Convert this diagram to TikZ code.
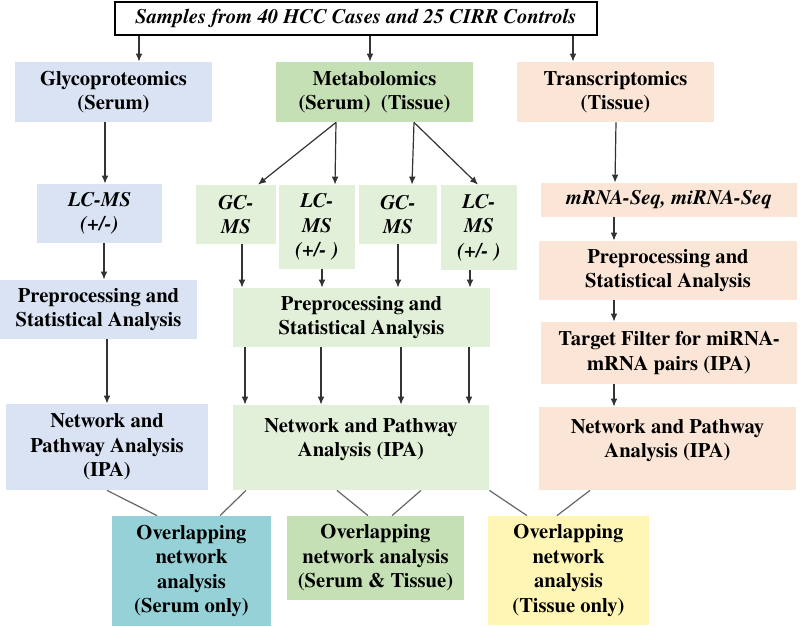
\documentclass[tikz,border=0pt]{standalone}
\usepackage{fontspec}
\setmainfont{texgyretermes}[
  Extension=.otf,
  UprightFont=*-regular,
  BoldFont=*-bold,
  ItalicFont=*-italic,
  BoldItalicFont=*-bolditalic]
\usepackage{tikz}
\usetikzlibrary{arrows.meta}

\definecolor{glyblue}{HTML}{DAE3F3}
\definecolor{metgreen}{HTML}{C5E0B4}
\definecolor{metlight}{HTML}{E2F0D9}
\definecolor{trpeach}{HTML}{FBE5D6}
\definecolor{ovteal}{HTML}{96D1D7}
\definecolor{ovyellow}{HTML}{FFF6B6}

\tikzset{
  box/.style={rectangle, align=center, inner sep=0pt,
    font=\fontsize{10.3}{12.2}\selectfont\bfseries},
  sz/.style 2 args={minimum width=#1*0.5pt, minimum height=#2*0.5pt},
  raised/.style={text depth=10pt},
  arr/.style={draw=black!80, line width=0.6pt, -{Latex[length=4pt,width=3.4pt]}},
  link/.style={draw=black!60, line width=0.6pt}
}

\begin{document}
\begin{tikzpicture}[x=0.5pt, y=-0.5pt]
  \useasboundingbox[fill=white] (0,0) rectangle (800,627);

  \node[box, sz={482}{33}, draw=black, line width=0.8pt, fill=white] (top) at (356,18.5)
    {\itshape Samples from 40 HCC Cases and 25 CIRR Controls};

  \node[box, sz={197}{60}, fill=glyblue] (glyco) at (113.5,92) {Glycoproteomics\\(Serum)};
  \node[box, sz={197}{60}, fill=metgreen] (metab) at (374.5,92) {Metabolomics\\(Serum)\ \ (Tissue)};
  \node[box, sz={197}{60}, fill=trpeach] (transc) at (615.5,92) {Transcriptomics\\(Tissue)};

  \node[box, sz={125}{59}, fill=glyblue] (glcms) at (99.5,213.5) {\itshape LC-MS\\\itshape (+/-)};
  \node[box, sz={197}{59}, fill=glyblue] (glpre) at (98.5,309.5) {Preprocessing and\\Statistical Analysis};
  \node[box, sz={202}{86}, fill=glyblue] (glnet) at (107,447) {Network and\\Pathway Analysis\\(IPA)};

  \node[box, sz={80}{59}, fill=metlight] (gcmsa) at (236,214.5) {\itshape GC-\\\itshape MS};
  \node[box, sz={76}{84}, fill=metlight] (lcmsa) at (317,227) {\itshape LC-\\\itshape MS\\\itshape (+/- )};
  \node[box, sz={78}{59}, fill=metlight] (gcmsb) at (398,214.5) {\itshape GC-\\\itshape MS};
  \node[box, sz={76}{85}, fill=metlight] (lcmsb) at (479,227.5) {\itshape LC-\\\itshape MS\\\itshape (+/- )};
  \node[box, sz={257}{59}, fill=metlight] (mpre) at (361.5,317.5) {Preprocessing and\\Statistical Analysis};
  \node[box, raised, sz={256}{85}, fill=metlight] (mnet) at (361,447.5) {Network and Pathway\\Analysis (IPA)};

  \node[box, sz={256}{34}, fill=trpeach] (trseq) at (669,200) {\itshape mRNA-Seq, miRNA-Seq};
  \node[box, sz={258}{59}, fill=trpeach] (trpre) at (668,270.5) {Preprocessing and\\Statistical Analysis};
  \node[box, sz={256}{62}, fill=trpeach] (trfilt) at (669,353) {Target Filter for miRNA-\\mRNA pairs (IPA)};
  \node[box, raised, sz={257}{83}, fill=trpeach] (trnet) at (667.5,448.5) {Network and Pathway\\Analysis (IPA)};

  \node[box, sz={159}{110}, fill=ovteal] (ovser) at (191.5,571) {Overlapping\\network\\analysis\\(Serum only)};
  \node[box, sz={177}{84}, fill=metgreen] (ovboth) at (375.5,558) {Overlapping\\network analysis\\(Serum \& Tissue)};
  \node[box, sz={161}{109}, fill=ovyellow] (ovtis) at (568.5,570.5) {Overlapping\\network\\analysis\\(Tissue only)};

  \draw[arr] (top.south -| 139,0) -- (glyco.north -| 139,0);
  \draw[arr] (top.south -| 370,0) -- (metab.north -| 370,0);
  \draw[arr] (top.south -| 573,0) -- (transc.north -| 573,0);

  \draw[arr] (glyco.south -| 105,0) -- (glcms.north -| 105,0);
  \draw[arr] (glcms.south -| 104,0) -- (glpre.north -| 104,0);
  \draw[arr] (glpre.south -| glnet.north) -- (glnet.north);

  \draw[arr] (metab.south -| 336,0) -- (gcmsa.north -| 258,0);
  \draw[arr] (metab.south -| 336,0) -- (lcmsa.north -| 335,0);
  \draw[arr] (metab.south -| 414,0) -- (gcmsb.north -| 412,0);
  \draw[arr] (metab.south -| 414,0) -- (lcmsb.north -| 478,0);
  \draw[arr] (gcmsa.south -| 242,0) -- (mpre.north -| 242,0);
  \draw[arr] (lcmsa.south -| 322,0) -- (mpre.north -| 322,0);
  \draw[arr] (gcmsb.south -| 398,0) -- (mpre.north -| 398,0);
  \draw[arr] (lcmsb.south -| 470,0) -- (mpre.north -| 470,0);
  \foreach \xx in {245,321,401,469}
    \draw[arr] (mpre.south -| \xx,0) -- (mnet.north -| \xx,0);

  \draw[arr] (transc.south -| 616,0) -- (trseq.north -| 615,0);
  \draw[arr] (trseq.south -| 614,0) -- (trpre.north -| 614,0);
  \draw[arr] (trpre.south -| 614,0) -- (trfilt.north -| 614,0);
  \draw[arr] (trfilt.south -| 614,0) -- (trnet.north -| 614,0);

  \draw[link] (glnet.south) -- (ovser.north -| 157,0);
  \draw[link] (mnet.south -| 246,0) -- (ovser.north -| 220,0);
  \draw[link] (mnet.south -| 337,0) -- (ovboth.north -| 368,0);
  \draw[link] (mnet.south -| 421,0) -- (ovboth.north -| 392,0);
  \draw[link] (mnet.south east) -- (ovtis.north -| 527,0);
  \draw[link] (trnet.south -| 590,0) -- (ovtis.north -| 557,0);
\end{tikzpicture}
\end{document}
